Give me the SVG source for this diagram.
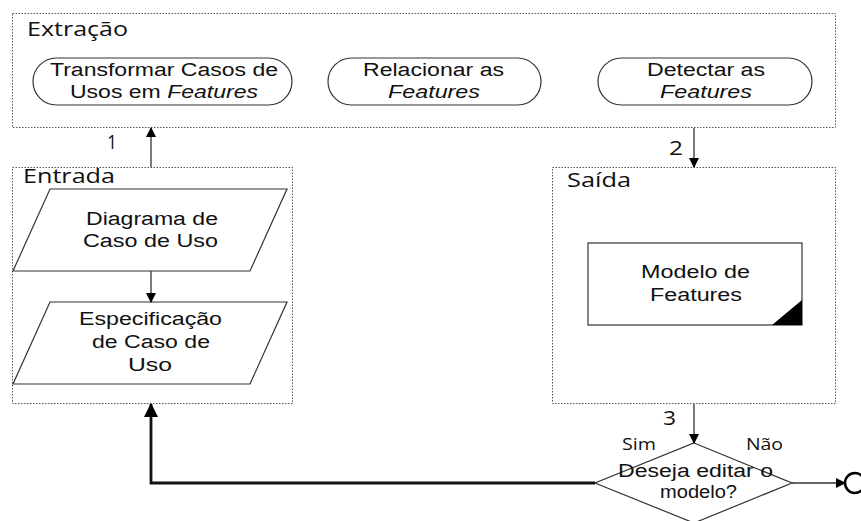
<svg xmlns="http://www.w3.org/2000/svg" width="861" height="521" viewBox="0 0 861 521">
<defs>
<style>
.grp{fill:none;stroke:#555;stroke-width:1;stroke-dasharray:1.5 1.5}
.gt{font-family:"Open Sans","DejaVu Sans",sans-serif;font-size:20px;fill:#111}
.shape{fill:#fff;stroke:#333;stroke-width:1.2}
.t{font-family:"Liberation Sans",Arial,sans-serif;font-size:18px;fill:#111}
.n{font-family:"Open Sans","DejaVu Sans",sans-serif;font-size:20px;fill:#111}
.s{font-family:"Open Sans","DejaVu Sans",sans-serif;font-size:16px;fill:#111}
.c{fill:none;stroke:#333;stroke-width:1.3}
</style>
<marker id="ah" markerWidth="10" markerHeight="10" refX="9" refY="5" orient="auto" markerUnits="userSpaceOnUse">
<path d="M0,0 L10,5 L0,10 z" fill="#000"/>
</marker>
<marker id="ahb" markerWidth="14" markerHeight="14" refX="13" refY="7" orient="auto" markerUnits="userSpaceOnUse">
<path d="M0,0 L14,7 L0,14 z" fill="#000"/>
</marker>
</defs>
<rect width="861" height="521" fill="#fff"/>

<g id="extracao">
<rect class="grp" x="12.5" y="13.5" width="823" height="114"/>
<text class="gt" x="27" y="36" textLength="101" lengthAdjust="spacingAndGlyphs">Extração</text>
</g>
<g id="n-transformar">
<rect class="shape" x="33" y="58" width="259" height="47" rx="23.5"/>
<text class="t" x="50" y="76" textLength="228" lengthAdjust="spacingAndGlyphs">Transformar Casos de</text>
<text class="t" x="70" y="98" textLength="188" lengthAdjust="spacingAndGlyphs">Usos em <tspan font-style="italic">Features</tspan></text>
</g>
<g id="n-relacionar">
<rect class="shape" x="328" y="58" width="213" height="47" rx="23.5"/>
<text class="t" x="363" y="76" textLength="141" lengthAdjust="spacingAndGlyphs">Relacionar as</text>
<text class="t" x="388" y="98" font-style="italic" textLength="92" lengthAdjust="spacingAndGlyphs">Features</text>
</g>
<g id="n-detectar">
<rect class="shape" x="598" y="58" width="214" height="47" rx="23.5"/>
<text class="t" x="647" y="76" textLength="118" lengthAdjust="spacingAndGlyphs">Detectar as</text>
<text class="t" x="660" y="98" font-style="italic" textLength="92" lengthAdjust="spacingAndGlyphs">Features</text>
</g>

<g id="entrada">
<rect class="grp" x="12.5" y="167.5" width="280" height="236"/>
<text class="gt" x="23" y="183" textLength="92" lengthAdjust="spacingAndGlyphs">Entrada</text>
</g>
<g id="n-diagrama">
<polygon class="shape" points="50,189 287,189 250,271 13,271"/>
<text class="t" x="86" y="225" textLength="132" lengthAdjust="spacingAndGlyphs">Diagrama de</text>
<text class="t" x="83" y="247" textLength="135" lengthAdjust="spacingAndGlyphs">Caso de Uso</text>
</g>
<g id="n-especificacao">
<polygon class="shape" points="50,302 287,302 250,384 13,384"/>
<text class="t" x="79" y="325" textLength="143" lengthAdjust="spacingAndGlyphs">Especificação</text>
<text class="t" x="92" y="348" textLength="118" lengthAdjust="spacingAndGlyphs">de Caso de</text>
<text class="t" x="128" y="371" textLength="44" lengthAdjust="spacingAndGlyphs">Uso</text>
</g>

<g id="saida">
<rect class="grp" x="552.5" y="167.5" width="283" height="236"/>
<text class="gt" x="567" y="187" textLength="64" lengthAdjust="spacingAndGlyphs">Saída</text>
</g>
<g id="n-modelo">
<rect class="shape" x="588" y="243" width="214" height="82"/>
<polygon points="772,325 802,325 802,300" fill="#000"/>
<text class="t" x="641" y="278" textLength="109" lengthAdjust="spacingAndGlyphs">Modelo de</text>
<text class="t" x="650" y="301" textLength="92" lengthAdjust="spacingAndGlyphs">Features</text>
</g>

<g id="n-decisao">
<polygon class="shape" points="694,443 792,483 694,523 595,483"/>
<text class="t" x="618" y="477" textLength="155" lengthAdjust="spacingAndGlyphs">Deseja editar o</text>
<text class="t" x="660" y="498" textLength="77" lengthAdjust="spacingAndGlyphs">modelo?</text>
</g>
<g id="n-fim">
<circle cx="855" cy="483" r="10" fill="#fff" stroke="#000" stroke-width="2.5"/>
</g>

<g id="connectors">
<line class="c" x1="151" y1="167" x2="151" y2="128" marker-end="url(#ah)"/>
<line class="c" x1="694" y1="128" x2="694" y2="167" marker-end="url(#ah)"/>
<line class="c" x1="151" y1="271" x2="151" y2="302" marker-end="url(#ah)"/>
<line class="c" x1="694" y1="404" x2="694" y2="443" marker-end="url(#ah)"/>
<polyline fill="none" stroke="#111" stroke-width="2.8" points="595,483 151,483 151,404" marker-end="url(#ahb)"/>
<line class="c" x1="792" y1="483" x2="845" y2="483" marker-end="url(#ah)"/>
<text class="n" x="107" y="149" textLength="10" lengthAdjust="spacingAndGlyphs">1</text>
<text class="n" x="669" y="155" textLength="14" lengthAdjust="spacingAndGlyphs">2</text>
<text class="n" x="663" y="425" textLength="13" lengthAdjust="spacingAndGlyphs">3</text>
<text class="s" x="622" y="450" textLength="34" lengthAdjust="spacingAndGlyphs">Sim</text>
<text class="s" x="746" y="450" textLength="37" lengthAdjust="spacingAndGlyphs">Não</text>
</g>
</svg>
